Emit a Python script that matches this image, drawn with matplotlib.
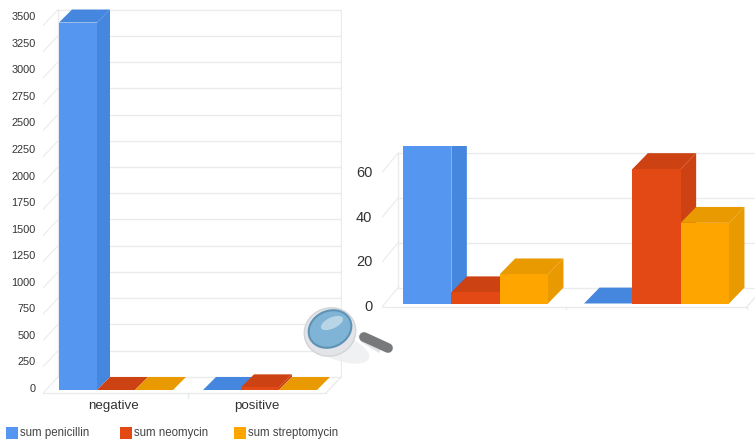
import numpy as np
import matplotlib
matplotlib.use("Agg")
import matplotlib.pyplot as plt
from matplotlib.patches import Ellipse, Polygon, Rectangle

plt.rcParams['font.family'] = ['Liberation Sans', 'DejaVu Sans']

categories = ["negative", "positive"]
series_names = ["sum penicillin", "sum neomycin", "sum streptomycin"]

# vue complete
full_penicillin = [3500, 0]
full_neomycin = [0, 25]
full_streptomycin = [0, 0]
full_ticks = [0, 250, 500, 750, 1000, 1250, 1500, 1750, 2000, 2250, 2500, 2750, 3000, 3250, 3500]

# vue zoomee
zoom_penicillin = [75, 0]
zoom_neomycin = [5, 60]
zoom_streptomycin = [13, 36]
zoom_ticks = [0, 20, 40, 60]

front_colors = ["#5596F0", "#E34915", "#FFA500"]
dark_colors = ["#4586DE", "#CD4213", "#E89A00"]
grid_color = "#E9EBEE"
W, H = 755, 441


def make_axes(fig, left, right, top, bottom):
    """axes placees en pixels de l'image"""
    return fig.add_axes([left / W, 1 - bottom / H, (right - left) / W, (bottom - top) / H])


def draw_bar(ax, x, w, val, dx, dy, i):
    # face laterale, dessus, puis face avant
    ax.add_patch(Polygon([(x + w, 0), (x + w + dx, dy), (x + w + dx, val + dy), (x + w, val)],
                         fc=dark_colors[i], ec="none", zorder=3 + i))
    ax.add_patch(Polygon([(x, val), (x + dx, val + dy), (x + w + dx, val + dy), (x + w, val)],
                         fc=dark_colors[i], ec="none", zorder=3 + i))
    ax.add_patch(Rectangle((x, 0), w, val, fc=front_colors[i], ec="none", zorder=3 + i))


def draw_chart(ax, values, ticks, w, dx, dy, xlim, ylim, wall_dx, floor, floor_end, tick_scale, tick_offset, pad, size):
    ax.set_xlim(*xlim)
    ax.set_ylim(*ylim)
    x_left = xlim[0]
    x_back = x_left + wall_dx
    x_right = floor_end + wall_dx
    for t in ticks:
        ax.plot([x_back, x_right], [t + dy, t + dy], color=grid_color, lw=1, zorder=1)
        ax.plot([x_left, x_back], [t + floor, t + dy], color=grid_color, lw=0.8, zorder=1)
    ax.plot([x_back, x_back], [dy, ticks[-1] + dy], color=grid_color, lw=1, zorder=1)
    ax.plot([x_right, x_right], [dy, ticks[-1] + dy], color=grid_color, lw=1, zorder=1)
    # sol : bord avant, bord droit et petits reperes entre les groupes
    ax.plot([x_left, min(floor_end, xlim[1])], [floor, floor], color=grid_color, lw=1, zorder=1, clip_on=False)
    ax.plot([floor_end, x_right], [floor, dy], color=grid_color, lw=1, zorder=1)
    for s in ax.spines.values():
        s.set_visible(False)
    for g in range(len(categories)):
        if g + 0.5 <= floor_end:
            ax.plot([g + 0.5, g + 0.5], [floor, floor - 0.012 * (ylim[1] - ylim[0])], color=grid_color,
                    lw=1, clip_on=False)
    for i, serie in enumerate(values):
        for g, val in enumerate(serie):
            draw_bar(ax, g + (i - 1.5) * w, w, val, dx, dy, i)
    ax.set_yticks([t * tick_scale + tick_offset for t in ticks], [str(t) for t in ticks])
    ax.tick_params(axis="y", length=0, pad=pad, labelsize=size, labelcolor="#333333")
    ax.set_xticks([])


fig = plt.figure(figsize=(W / 100, H / 100), dpi=100, facecolor="white")

# graphique de gauche : 144 px entre groupes, 0.105 px par unite
ax1 = make_axes(fig, 43, 342, 9, 393)
draw_chart(ax1, [full_penicillin, full_neomycin, full_streptomycin], full_ticks,
           38 / 144, 13 / 144, 124, ((43 - 116) / 144, (342 - 116) / 144), (-28.6, 3629),
           15 / 144, -28.6, (326 - 116) / 144, 1.012, 19, 5.5, 7.8)
for g, name in enumerate(categories):
    ax1.text(g - 0.02, -150, name, ha="center", va="center", fontsize=9.6, color="#333333")

# graphique de droite : 181 px entre groupes, 2.24 px par unite
ax2 = make_axes(fig, 382, 755, 146, 307)
draw_chart(ax2, [zoom_penicillin, zoom_neomycin, zoom_streptomycin], zoom_ticks,
           48.3 / 181, 15.5 / 181, 7.1, ((382 - 475.5) / 181, (755 - 475.5) / 181), (-1.56, 70.3),
           16 / 181, -1.56, 1.5, 1.0, -1, 7, 10.5)

# legende et loupe dans un calque en pixels
over = fig.add_axes([0, 0, 1, 1], zorder=10)
over.set_xlim(0, W)
over.set_ylim(H, 0)
over.axis("off")
for i, (x0, name) in enumerate(zip([6, 120, 234], series_names)):
    over.add_patch(Rectangle((x0, 427), 11.5, 11.5, fc=front_colors[i], ec="none"))
    over.text(x0 + 14.5, 433, name, ha="left", va="center", fontsize=8.3, color="#444444")

over.add_patch(Ellipse((338, 347), 66, 26, angle=20, fc="#EDEEEF", ec="none", alpha=0.8))
over.add_patch(Polygon([(358, 335), (361, 342), (379, 353), (384, 345)], fc="#E3E4E6", ec="none"))
over.plot([364, 388], [337, 348], color="#77797B", lw=7, solid_capstyle="round")
over.add_patch(Ellipse((330, 332), 52, 48, angle=-20, fc="#E2E4E7", ec="#D2D5D8", lw=1))
over.add_patch(Ellipse((330, 329), 44, 36, angle=-25, fc="#7FB4D6", ec="#5F93B5", lw=1.5))
over.add_patch(Ellipse((332, 323), 24, 11, angle=-25, fc="#B7D5E5", ec="none"))

fig.savefig("out.png", dpi=100)
